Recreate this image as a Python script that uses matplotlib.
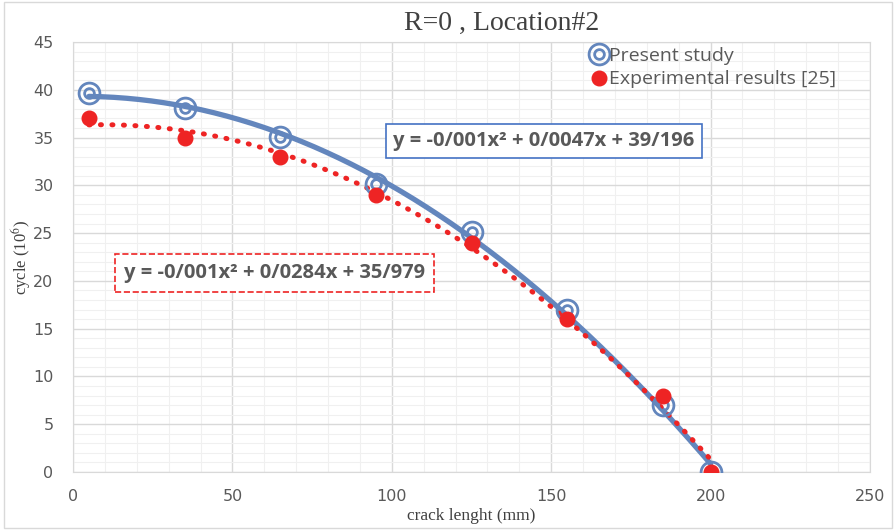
import numpy as np
import matplotlib.pyplot as plt
from matplotlib.patches import Rectangle
from matplotlib.lines import Line2D
from matplotlib.ticker import MultipleLocator

plt.rcParams['mathtext.fontset'] = 'stix'

# data
crack = [5, 35, 65, 95, 125, 155, 185, 200]
present = [39.7, 38.1, 35.1, 30.1, 25.1, 17.0, 7.0, 0.0]
experimental = [37.0, 35.0, 33.0, 29.0, 24.0, 16.0, 8.0, 0.0]
eq_present = 'y = -0/001x\u00b2 + 0/0047x + 39/196'
eq_exp = 'y = -0/001x\u00b2 + 0/0284x + 35/979'

blue = '#6386BD'
red = '#EE2424'
grey = '#595959'

fig = plt.figure(figsize=(8.96, 5.3), dpi=100)
ax = fig.add_axes([73 / 896, 1 - 472 / 530, 797 / 896, 430 / 530])

# trendlines (2nd order polynomial fits)
xx = np.linspace(crack[0], crack[-1], 200)
p1 = np.polyfit(crack, present, 2)
p2 = np.polyfit(crack, experimental, 2)
ax.plot(xx, np.polyval(p1, xx), color=blue, lw=3.8, zorder=3, solid_capstyle='round')
ax.plot(xx, np.polyval(p2, xx), color=red, lw=3.6, ls=(0, (0.2, 2.1)),
        dash_capstyle='round', zorder=4)

# markers
ax.plot(crack, present, ls='none', marker='o', ms=15, mfc='none', mec=blue, mew=2, zorder=5)
ax.plot(crack, present, ls='none', marker='o', ms=7, mfc='none', mec=blue, mew=2, zorder=5)
ax.plot(crack, experimental, ls='none', marker='o', ms=10.5, color=red, zorder=6)

ax.set_xlim(0, 250)
ax.set_ylim(0, 45)
ax.set_xticks(np.arange(0, 251, 50))
ax.set_yticks(np.arange(0, 46, 5))
ax.xaxis.set_minor_locator(MultipleLocator(10))
ax.yaxis.set_minor_locator(MultipleLocator(1))
ax.grid(which='major', color='#D9D9D9', lw=1)
ax.grid(which='minor', color='#F0F0F0', lw=0.8)
ax.set_axisbelow(True)
for s in ax.spines.values():
    s.set_color('#D9D9D9')
ax.tick_params(which='both', length=0, colors=grey, labelsize=11.5)
ax.tick_params(axis='x', pad=12)
ax.tick_params(axis='y', pad=14)
for lab in ax.get_xticklabels() + ax.get_yticklabels():
    lab.set_family('Liberation Sans Narrow')

ax.set_title('R=0 , Location#2', family='Liberation Serif', fontsize=20, color='#404040',
             x=0.538, pad=9)
ax.set_xlabel('crack lenght (mm)', family='Liberation Serif', fontsize=12.5, color='#404040', labelpad=3)
ax.set_ylabel('cycle (10$^{6}$)', family='Liberation Serif', fontsize=12, color='#404040', labelpad=0)

# legend
h1 = (Line2D([], [], ls='none', marker='o', ms=15, mfc='none', mec=blue, mew=2),
      Line2D([], [], ls='none', marker='o', ms=7, mfc='none', mec=blue, mew=2))
h2 = Line2D([], [], ls='none', marker='o', ms=10.5, color=red)
ax.legend([h1, h2], ['Present study', 'Experimental results [25]'],
          loc='upper left', bbox_to_anchor=(0.628, 1.03), frameon=False,
          prop={'family': 'Open Sans', 'size': 14}, labelcolor=grey,
          handlelength=0.8, handletextpad=0.15, labelspacing=0.3)

# equation boxes
ax.text(0.591, 0.770, eq_present, transform=ax.transAxes, ha='center', va='center',
        fontsize=14.5, fontweight='bold', color=grey, family='Open Sans',
        bbox=dict(boxstyle='square,pad=0.35', fc='white', ec='#4472C4', lw=1.2), zorder=7)
ax.text(0.253, 0.463, eq_exp, transform=ax.transAxes, ha='center', va='center',
        fontsize=14.5, fontweight='bold', color=grey, family='Open Sans',
        bbox=dict(boxstyle='square,pad=0.45', fc='white', ec=red, lw=1.2, ls='--'), zorder=7)

# chart border
fig.patches.append(Rectangle((0.004, 0.004), 0.992, 0.992, transform=fig.transFigure,
                             fill=False, ec='#D9D9D9', lw=1))

fig.savefig('out.png', dpi=100)
